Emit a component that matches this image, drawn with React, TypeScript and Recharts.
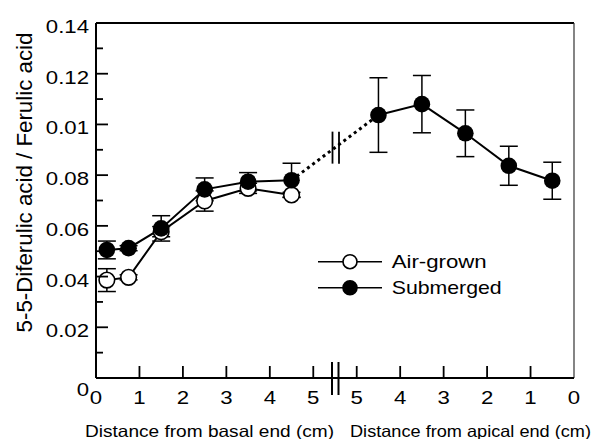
import { LineChart, Line, XAxis, YAxis, ErrorBar, ReferenceLine, ReferenceDot, Legend } from 'recharts';

// positions along the stem (cm); apical side is mirrored onto the right half of the axis
const basalPos = [0.25, 0.75, 1.5, 2.5, 3.5, 4.5];
const apicalPos = [4.5, 3.5, 2.5, 1.5, 0.5];

const airGrown = [0.0386, 0.0397, 0.0577, 0.0698, 0.0748, 0.0722];
const airGrownErr = [0.0045, 0.001, 0.002, 0.004, 0.002, 0.001];

const submergedBasal = [0.0505, 0.0512, 0.059, 0.0744, 0.0774, 0.078];
const submergedBasalErr = [0.0035, 0.001, 0.005, 0.0045, 0.0036, 0.0067];
const submergedApical = [0.1037, 0.108, 0.0965, 0.0837, 0.0778];
const submergedApicalErr = [0.0147, 0.0113, 0.0092, 0.0077, 0.0073];

const xTicks = [0, 1, 2, 3, 4, 5, 6, 7, 8, 9, 10, 11];
const xTickLabels = ['0', '1', '2', '3', '4', '5', '5', '4', '3', '2', '1', '0'];
const yTicks = [0, 0.01, 0.02, 0.03, 0.04, 0.05, 0.06, 0.07, 0.08, 0.09, 0.1, 0.11, 0.12, 0.13, 0.14];
const yMajorLabels = ['0', '0.02', '0.04', '0.06', '0.08', '0.01', '0.12', '0.14'];

const seriesNames = ['Air-grown', 'Submerged'];
const xTitles = ['Distance from basal end (cm)', 'Distance from apical end (cm)'];
const yTitle = '5-5-Diferulic acid / Ferulic acid';

const AXIS_END = 11; // apical 0
const BREAK = 5.5;
const FONT = '"Liberation Sans", Arial, sans-serif';

const toApical = (d: number) => AXIS_END - d;

const airData = basalPos.map((x, i) => ({ x, y: airGrown[i], err: airGrownErr[i] }));
const subBasalData = basalPos.map((x, i) => ({ x, y: submergedBasal[i], err: submergedBasalErr[i] }));
const subApicalData = apicalPos.map((d, i) => ({ x: toApical(d), y: submergedApical[i], err: submergedApicalErr[i] }));
const bridgeData = [subBasalData[subBasalData.length - 1], subApicalData[0]];

// text in the figure is drawn about 1.2x wider than plain Helvetica
const charW = (s: string) => [...s].reduce((a, c) => a + (c === '.' ? 0.278 : 0.556), 0);
const TICK_FS = 18.5;
const STRETCH = 1.2;

const XTick = (props: any) => {
  const { x, y, payload } = props;
  const i = xTicks.indexOf(payload.value);
  const label = xTickLabels[i] ?? '';
  const w = charW(label) * TICK_FS * STRETCH;
  return (
    <g>
      {i > 0 && i < xTicks.length - 1 && (
        <line x1={x} y1={y} x2={x} y2={y - 12} stroke="#000" strokeWidth={1.8} />
      )}
      <text x={x - w / 2} y={y + 25.5} fontFamily={FONT} fontSize={TICK_FS} fill="#000"
        textLength={w} lengthAdjust="spacingAndGlyphs">
        {label}
      </text>
    </g>
  );
};

const YTick = (props: any) => {
  const { x, y, payload } = props;
  const i = yTicks.indexOf(payload.value);
  const major = i % 2 === 0;
  const label = major ? yMajorLabels[i / 2] : '';
  const w = charW(label) * TICK_FS * STRETCH;
  return (
    <g>
      {i > 0 && i < yTicks.length - 1 && (
        <line x1={x} y1={y} x2={x + (major ? 12 : 7)} y2={y} stroke="#000" strokeWidth={1.8} />
      )}
      {major && (
        <text x={x - 7 - w} y={y + (i === 0 ? 18 : 10)} fontFamily={FONT} fontSize={TICK_FS} fill="#000"
          textLength={w} lengthAdjust="spacingAndGlyphs">
          {label}
        </text>
      )}
    </g>
  );
};

const XTitles = (props: any) => {
  const { x, y } = props.viewBox;
  return (
    <g fontFamily={FONT} fontSize={16.5} fill="#000">
      <text x={x - 11} y={y + 58.5} textLength={249} lengthAdjust="spacingAndGlyphs">{xTitles[0]}</text>
      <text x={x + 254} y={y + 58.5} textLength={241} lengthAdjust="spacingAndGlyphs">{xTitles[1]}</text>
    </g>
  );
};

const YTitleLabel = (props: any) => {
  const { y, height } = props.viewBox;
  const cx = 32;
  const cy = y + height / 2 - 18;
  return (
    <text x={cx} y={cy} transform={`rotate(-90 ${cx} ${cy})`} textAnchor="middle" fontFamily={FONT} fontSize={22.3} fill="#000">
      {yTitle}
    </text>
  );
};

// "||" on the x axis
const AxisBreak = (props: any) => {
  const x = props.x1;
  const yb = Math.max(props.y1, props.y2);
  return (
    <g>
      <rect x={x - 3} y={yb - 3} width={6} height={6} fill="#fff" />
      <line x1={x - 3} y1={yb - 16} x2={x - 3} y2={yb + 17} stroke="#000" strokeWidth={2} />
      <line x1={x + 3.5} y1={yb - 16} x2={x + 3.5} y2={yb + 17} stroke="#000" strokeWidth={2} />
    </g>
  );
};

// "||" across the dotted bridge
const LineBreak = (props: any) => {
  const { cx, cy } = props;
  return (
    <g>
      <line x1={cx - 2.5} y1={cy - 16} x2={cx - 2.5} y2={cy + 16} stroke="#000" strokeWidth={1.8} />
      <line x1={cx + 4} y1={cy - 16} x2={cx + 4} y2={cy + 16} stroke="#000" strokeWidth={1.8} />
    </g>
  );
};

const LegendBox = () => (
  <svg width={210} height={60} style={{ display: 'block' }}>
    {seriesNames.map((name, i) => {
      const cy = 16.7 + i * 26;
      return (
        <g key={name}>
          <line x1={8} y1={cy} x2={72} y2={cy} stroke="#000" strokeWidth={1.6} />
          <circle cx={40} cy={cy} r={7} fill={i === 0 ? '#fff' : '#000'} stroke="#000" strokeWidth={1.6} />
          <text x={81.7} y={cy + 6.6} fontFamily={FONT} fontSize={18.5} fill="#000"
            textLength={i === 0 ? 95 : 110} lengthAdjust="spacingAndGlyphs">
            {name}
          </text>
        </g>
      );
    })}
  </svg>
);

export default function App() {
  return (
    <div style={{ position: 'absolute', left: 0, top: 0, background: '#fff' }}>
      <LineChart width={600} height={439} margin={{ top: 23, right: 26, bottom: 0, left: 0 }}>
        <XAxis
          type="number"
          dataKey="x"
          domain={[0, AXIS_END]}
          ticks={xTicks}
          interval={0}
          height={61}
          tickSize={0}
          tickMargin={0}
          tickLine={false}
          axisLine={{ stroke: '#000', strokeWidth: 2 }}
          tick={<XTick />}
          label={{ content: <XTitles /> }}
        />
        <YAxis
          type="number"
          domain={[0, 0.14]}
          allowDataOverflow
          ticks={yTicks}
          interval={0}
          width={96}
          tickSize={0}
          tickMargin={0}
          tickLine={false}
          axisLine={{ stroke: '#000', strokeWidth: 2 }}
          tick={<YTick />}
          label={{ content: <YTitleLabel /> }}
        />
        <ReferenceLine y={0.14} stroke="#000" strokeWidth={2} />
        <ReferenceLine x={AXIS_END} stroke="#333" strokeWidth={1.2} />
        <ReferenceLine x={BREAK} stroke="none" shape={<AxisBreak />} />

        <Line
          data={bridgeData}
          dataKey="y"
          stroke="#000"
          strokeWidth={3}
          strokeDasharray="3 3.5"
          dot={false}
          activeDot={false}
          isAnimationActive={false}
          legendType="none"
        />
        <ReferenceDot
          x={BREAK}
          y={(bridgeData[0].y + bridgeData[1].y) / 2}
          r={0}
          shape={<LineBreak />}
        />
        <Line
          data={airData}
          dataKey="y"
          name={seriesNames[0]}
          stroke="#000"
          strokeWidth={2}
          dot={{ r: 7.8, fill: '#fff', stroke: '#000', strokeWidth: 1.6 }}
          activeDot={false}
          isAnimationActive={false}
        >
          <ErrorBar dataKey="err" direction="y" width={9} stroke="#000" strokeWidth={1.5} />
        </Line>
        <Line
          data={subBasalData}
          dataKey="y"
          name={seriesNames[1]}
          stroke="#000"
          strokeWidth={2}
          dot={{ r: 8.3, fill: '#000', stroke: '#000', strokeWidth: 0 }}
          activeDot={false}
          isAnimationActive={false}
        >
          <ErrorBar dataKey="err" direction="y" width={9} stroke="#000" strokeWidth={1.5} />
        </Line>
        <Line
          data={subApicalData}
          dataKey="y"
          stroke="#000"
          strokeWidth={2}
          dot={{ r: 8.3, fill: '#000', stroke: '#000', strokeWidth: 0 }}
          activeDot={false}
          isAnimationActive={false}
          legendType="none"
        >
          <ErrorBar dataKey="err" direction="y" width={9} stroke="#000" strokeWidth={1.5} />
        </Line>
        <Legend
          verticalAlign="middle"
          align="center"
          content={() => <LegendBox />}
          wrapperStyle={{ left: 310, top: 245, width: 210, height: 60 }}
        />
      </LineChart>
    </div>
  );
}
